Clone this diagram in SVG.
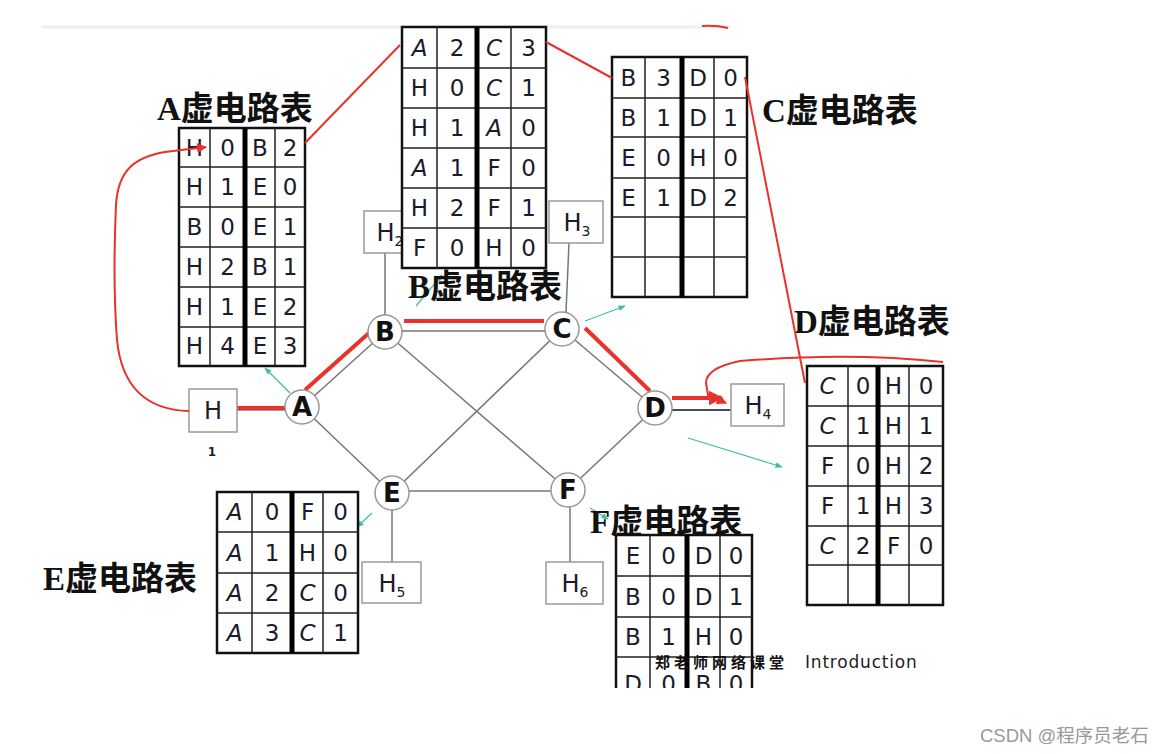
<svg xmlns="http://www.w3.org/2000/svg" width="1167" height="754" viewBox="0 0 1167 754">
<style>
.tbo{fill:#fff;stroke:#111;stroke-width:2.5}
.tbi{stroke:#222;stroke-width:1.5}
.tbm{stroke:#000;stroke-width:5}
.cell{font-family:"DejaVu Sans","Liberation Sans",sans-serif;font-size:23px;fill:#1b1b2b;text-anchor:middle}
.it{font-style:italic}
.title{font-family:"Liberation Serif","Noto Sans CJK SC",serif;font-weight:bold;font-size:33px;fill:#111}
.node circle{fill:#fff;stroke:#999;stroke-width:1.5}
.node text{font-family:"DejaVu Sans",sans-serif;font-weight:bold;font-size:26px;fill:#111;text-anchor:middle}
.host rect{fill:#fff;stroke:#999;stroke-width:1.5}
.host text{font-family:"DejaVu Sans",sans-serif;font-size:24px;fill:#1b1b2b;text-anchor:middle}
.link{stroke:#777;stroke-width:1.5;fill:none}
.red{stroke:#e8322a;stroke-width:2;fill:none}
.redt{stroke:#e8322a;stroke-width:4;fill:none}
.grn{stroke:#3fbf9f;stroke-width:1.2;fill:none;marker-end:url(#ga)}
</style>
<defs>
<marker id="ra" viewBox="0 0 10 10" refX="9" refY="5" markerWidth="5" markerHeight="5" orient="auto"><path d="M0,0 L10,5 L0,10 z" fill="#e8322a"/></marker>
<marker id="ga" viewBox="0 0 10 10" refX="9" refY="5" markerWidth="6" markerHeight="6" orient="auto"><path d="M0,1 L10,5 L0,9 z" fill="#3fbf9f"/></marker>
<clipPath id="fclip"><rect x="600" y="520" width="170" height="168"/></clipPath>
</defs>

<g id="topband">
<line x1="42" y1="27" x2="730" y2="27" stroke="#efefef" stroke-width="3"/>
<path d="M702,26 Q716,25 728,28" class="red"/>
</g>

<g id="connectors">
<line class="link" x1="302" y1="407" x2="385" y2="332"/>
<line class="link" x1="385" y1="331" x2="562" y2="331"/>
<line class="link" x1="562" y1="329" x2="655" y2="408"/>
<line class="link" x1="302" y1="407" x2="392" y2="493"/>
<line class="link" x1="392" y1="491" x2="568" y2="491"/>
<line class="link" x1="568" y1="490" x2="655" y2="408"/>
<line class="link" x1="385" y1="332" x2="568" y2="490"/>
<line class="link" x1="562" y1="329" x2="392" y2="493"/>
<line class="link" x1="385" y1="253" x2="385" y2="315"/>
<line class="link" x1="569" y1="243" x2="566" y2="312"/>
<line class="link" x1="392" y1="510" x2="392" y2="562"/>
<line class="link" x1="570" y1="507" x2="570" y2="562"/>
<line class="link" x1="237" y1="410" x2="285" y2="410"/>
<line x1="672" y1="410" x2="731" y2="410" stroke="#111" stroke-width="1.5"/>
<line class="redt" x1="237" y1="408" x2="287" y2="408"/>
<line class="redt" x1="305" y1="390" x2="369" y2="333"/>
<line class="redt" x1="404" y1="321" x2="544" y2="321"/>
<line class="redt" x1="585" y1="328" x2="650" y2="391"/>
<path class="redt" d="M672,398 L716,398"/>
<line class="grn" x1="290" y1="393" x2="265" y2="368"/>
<line class="grn" x1="416" y1="306" x2="442" y2="275"/>
<line class="grn" x1="585" y1="321" x2="625" y2="306"/>
<line class="grn" x1="688" y1="438" x2="782" y2="467"/>
<line class="grn" x1="372" y1="513" x2="357" y2="527"/>
<line class="grn" x1="590" y1="508" x2="608" y2="519"/>
</g>

<g id="hosts">
<g id="H1" class="host"><rect x="189" y="389" width="48" height="43"/><text x="213" y="419">H</text><text x="212" y="456" style="font-size:12px;font-weight:bold">1</text></g>
<g id="H2" class="host"><rect x="364" y="211" width="50" height="42"/><text x="390" y="241">H<tspan font-size="14" dy="5">2</tspan></text></g>
<g id="H3" class="host"><rect x="549" y="201" width="54" height="42"/><text x="577" y="231">H<tspan font-size="14" dy="5">3</tspan></text></g>
<g id="H4" class="host"><rect x="731" y="384" width="53" height="42"/><text x="758" y="414">H<tspan font-size="14" dy="5">4</tspan></text></g>
<g id="H5" class="host"><rect x="362" y="562" width="59" height="41"/><text x="392" y="592">H<tspan font-size="14" dy="5">5</tspan></text></g>
<g id="H6" class="host"><rect x="546" y="562" width="57" height="42"/><text x="575" y="592">H<tspan font-size="14" dy="5">6</tspan></text></g>
</g>

<g id="nodes">
<g id="A" class="node"><circle cx="302" cy="407" r="17"/><text x="302" y="416">A</text></g>
<g id="B" class="node"><circle cx="385" cy="332" r="17"/><text x="385" y="341">B</text></g>
<g id="C" class="node"><circle cx="562" cy="329" r="17"/><text x="562" y="338">C</text></g>
<g id="D" class="node"><circle cx="655" cy="408" r="17"/><text x="655" y="417">D</text></g>
<g id="E" class="node"><circle cx="392" cy="493" r="17"/><text x="392" y="502">E</text></g>
<g id="F" class="node"><circle cx="568" cy="490" r="17"/><text x="568" y="499">F</text></g>
</g>

<g id="tableA">
<text class="title" x="157" y="120">A虚电路表</text>
<rect class="tbo" x="179" y="128" width="126" height="238"/>
<path class="tbi" d="M210,128V366M275,128V366M179,167H305M179,207H305M179,247H305M179,287H305M179,327H305"/>
<line class="tbm" x1="245" y1="128" x2="245" y2="366"/>
<g class="cell">
<text x="194.5" y="156">H</text><text x="227.5" y="156">0</text><text x="260" y="156">B</text><text x="290" y="156">2</text>
<text x="194.5" y="195">H</text><text x="227.5" y="195">1</text><text x="260" y="195">E</text><text x="290" y="195">0</text>
<text x="194.5" y="235">B</text><text x="227.5" y="235">0</text><text x="260" y="235">E</text><text x="290" y="235">1</text>
<text x="194.5" y="275">H</text><text x="227.5" y="275">2</text><text x="260" y="275">B</text><text x="290" y="275">1</text>
<text x="194.5" y="315">H</text><text x="227.5" y="315">1</text><text x="260" y="315">E</text><text x="290" y="315">2</text>
<text x="194.5" y="354">H</text><text x="227.5" y="354">4</text><text x="260" y="354">E</text><text x="290" y="354">3</text>
</g>
</g>

<g id="tableB">
<text class="title" x="408" y="298">B虚电路表</text>
<rect class="tbo" x="402" y="27" width="144" height="241"/>
<path class="tbi" d="M437,27V268M511,27V268M402,68H546M402,108H546M402,148H546M402,188H546M402,228H546"/>
<line class="tbm" x1="477" y1="27" x2="477" y2="268"/>
<g class="cell">
<text x="419.5" y="56" class="it">A</text><text x="457" y="56">2</text><text x="494" y="56" class="it">C</text><text x="528.5" y="56">3</text>
<text x="419.5" y="96">H</text><text x="457" y="96">0</text><text x="494" y="96" class="it">C</text><text x="528.5" y="96">1</text>
<text x="419.5" y="136">H</text><text x="457" y="136">1</text><text x="494" y="136" class="it">A</text><text x="528.5" y="136">0</text>
<text x="419.5" y="176" class="it">A</text><text x="457" y="176">1</text><text x="494" y="176">F</text><text x="528.5" y="176">0</text>
<text x="419.5" y="216">H</text><text x="457" y="216">2</text><text x="494" y="216">F</text><text x="528.5" y="216">1</text>
<text x="419.5" y="256">F</text><text x="457" y="256">0</text><text x="494" y="256">H</text><text x="528.5" y="256">0</text>
</g>
</g>

<g id="tableC">
<text class="title" x="762" y="122">C虚电路表</text>
<rect class="tbo" x="612" y="57" width="135" height="240"/>
<path class="tbi" d="M645,57V297M714,57V297M612,98H747M612,137H747M612,178H747M612,217H747M612,257H747"/>
<line class="tbm" x1="682" y1="57" x2="682" y2="297"/>
<g class="cell">
<text x="628.5" y="86">B</text><text x="663.5" y="86">3</text><text x="698" y="86">D</text><text x="730.5" y="86">0</text>
<text x="628.5" y="126">B</text><text x="663.5" y="126">1</text><text x="698" y="126">D</text><text x="730.5" y="126">1</text>
<text x="628.5" y="166">E</text><text x="663.5" y="166">0</text><text x="698" y="166">H</text><text x="730.5" y="166">0</text>
<text x="628.5" y="206">E</text><text x="663.5" y="206">1</text><text x="698" y="206">D</text><text x="730.5" y="206">2</text>
</g>
</g>

<g id="tableD">
<text class="title" x="794" y="333">D虚电路表</text>
<rect class="tbo" x="807" y="366" width="136" height="239"/>
<path class="tbi" d="M848,366V605M909,366V605M807,406H943M807,446H943M807,486H943M807,526H943M807,565H943"/>
<line class="tbm" x1="878" y1="366" x2="878" y2="605"/>
<g class="cell">
<text x="827.5" y="394" class="it">C</text><text x="863" y="394">0</text><text x="893.5" y="394">H</text><text x="926" y="394">0</text>
<text x="827.5" y="434" class="it">C</text><text x="863" y="434">1</text><text x="893.5" y="434">H</text><text x="926" y="434">1</text>
<text x="827.5" y="474">F</text><text x="863" y="474">0</text><text x="893.5" y="474">H</text><text x="926" y="474">2</text>
<text x="827.5" y="514">F</text><text x="863" y="514">1</text><text x="893.5" y="514">H</text><text x="926" y="514">3</text>
<text x="827.5" y="554" class="it">C</text><text x="863" y="554">2</text><text x="893.5" y="554">F</text><text x="926" y="554">0</text>
</g>
</g>

<g id="tableE">
<text class="title" x="43" y="590">E虚电路表</text>
<rect class="tbo" x="217" y="492" width="141" height="161"/>
<path class="tbi" d="M252,492V653M323,492V653M217,532H358M217,573H358M217,613H358"/>
<line class="tbm" x1="292" y1="492" x2="292" y2="653"/>
<g class="cell">
<text x="234.5" y="520" class="it">A</text><text x="272" y="520">0</text><text x="307.5" y="520">F</text><text x="340.5" y="520">0</text>
<text x="234.5" y="561" class="it">A</text><text x="272" y="561">1</text><text x="307.5" y="561">H</text><text x="340.5" y="561">0</text>
<text x="234.5" y="601" class="it">A</text><text x="272" y="601">2</text><text x="307.5" y="601" class="it">C</text><text x="340.5" y="601">0</text>
<text x="234.5" y="641" class="it">A</text><text x="272" y="641">3</text><text x="307.5" y="641" class="it">C</text><text x="340.5" y="641">1</text>
</g>
</g>

<g id="tableF">
<text class="title" x="590" y="533">F虚电路表</text>
<g clip-path="url(#fclip)">
<rect x="616" y="535" width="136" height="170" fill="#fff" stroke="none"/>
<path d="M616,705V535H752V705" fill="none" stroke="#111" stroke-width="2.5"/>
<path class="tbi" d="M650,535V705M720,535V705M616,576H752M616,617H752M616,657H752"/>
<line class="tbm" x1="687" y1="535" x2="687" y2="705"/>
<g class="cell">
<text x="633" y="564">E</text><text x="668.5" y="564">0</text><text x="703.5" y="564">D</text><text x="736" y="564">0</text>
<text x="633" y="605">B</text><text x="668.5" y="605">0</text><text x="703.5" y="605">D</text><text x="736" y="605">1</text>
<text x="633" y="645">B</text><text x="668.5" y="645">1</text><text x="703.5" y="645">H</text><text x="736" y="645">0</text>
<text x="633" y="692">D</text><text x="668.5" y="692">0</text><text x="703.5" y="692">B</text><text x="736" y="692">0</text>
</g>
</g>
<text x="655" y="668" style="font-family:'Noto Sans CJK SC',sans-serif;font-weight:bold;font-size:15px;letter-spacing:4px;fill:#111">郑老师网络课堂</text>
<text x="805" y="668" style="font-family:'DejaVu Sans',sans-serif;font-size:17px;letter-spacing:0.8px;fill:#222">Introduction</text>
</g>

<g id="annotations">
<path d="M714,398 L722,398" stroke="#e8322a" stroke-width="3" marker-end="url(#ra)"/>
<path class="red" d="M189,411 C150,410 122,390 117,340 C114,300 114,250 116,205 C118,170 135,157 165,152 L206,147" marker-end="url(#ra)"/>
<line class="red" x1="305" y1="143" x2="400" y2="45"/>
<line class="red" x1="546" y1="42" x2="612" y2="78"/>
<line class="red" x1="745" y1="77" x2="805" y2="383"/>
<path class="red" d="M943,362 Q850,352 740,361 Q706,368 706,383 L708,395 L726,403" marker-end="url(#ra)"/>
</g>

<text x="980" y="742" style="font-family:'Liberation Sans','Noto Sans CJK SC',sans-serif;font-size:18.5px;fill:#999">CSDN @程序员老石</text>
</svg>
